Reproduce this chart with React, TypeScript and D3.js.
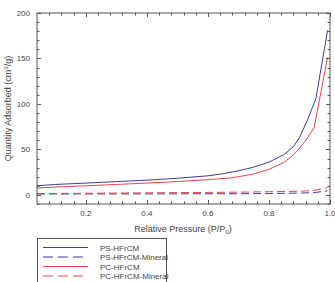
import React from "react";
import * as d3 from "d3";

// Relative pressure (P/P0) sample points for each isotherm
const psPressure = [0.04, 0.1, 0.2, 0.3, 0.4, 0.5, 0.6, 0.65, 0.7, 0.75, 0.8, 0.85, 0.88, 0.9, 0.927, 0.954, 0.992];
const psAdsorbed = [10, 11.5, 13, 14.6, 16.2, 18.3, 21, 23.3, 26.5, 30.5, 36, 44.5, 53, 63, 83, 106, 181];

const pcPressure = [0.04, 0.1, 0.2, 0.3, 0.4, 0.5, 0.6, 0.67, 0.7, 0.75, 0.8, 0.85, 0.88, 0.9, 0.925, 0.948, 0.992];
const pcAdsorbed = [7.5, 8.6, 10, 11.5, 13, 14.7, 16.8, 18.5, 20, 23, 28, 36, 44, 51, 62, 74, 151];

const psMinPressure = [0.04, 0.3, 0.5, 0.7, 0.8, 0.9, 0.95, 0.992];
const psMinAdsorbed = [1.0, 1.1, 1.2, 1.3, 1.5, 2.0, 2.6, 4.5];

const pcMinPressure = [0.04, 0.3, 0.5, 0.7, 0.8, 0.9, 0.95, 0.992];
const pcMinAdsorbed = [1.5, 2.0, 2.5, 3.0, 3.5, 4.0, 5.0, 8.0];

const seriesNames = ["PS-HFrCM", "PS-HFrCM-Mineral", "PC-HFrCM", "PC-HFrCM-Mineral"];

const xTickValues = [0.2, 0.4, 0.6, 0.8, 1.0];
const yTickValues = [0, 50, 100, 150, 200];

const BLUE = "#3d3d9c";
const RED = "#ec4449";
const FRAME = "#555";
const TEXT = "#444";
const FONT = "'Liberation Sans', Arial, sans-serif";

export default function App() {
  const left = 37, right = 330, top = 13, bottom = 204;
  const x = d3.scaleLinear().domain([0.04, 1.0]).range([left, right]);
  const y = d3.scaleLinear().domain([-10, 200]).range([bottom, top]);

  const line = d3
    .line<[number, number]>()
    .x((d) => x(d[0]))
    .y((d) => y(d[1]));

  const zip = (a: number[], b: number[]) => a.map((v, i) => [v, b[i]] as [number, number]);

  const series = [
    { name: seriesNames[0], data: zip(psPressure, psAdsorbed), color: BLUE, dash: null },
    { name: seriesNames[1], data: zip(psMinPressure, psMinAdsorbed), color: BLUE, dash: "8,4" },
    { name: seriesNames[2], data: zip(pcPressure, pcAdsorbed), color: RED, dash: null },
    { name: seriesNames[3], data: zip(pcMinPressure, pcMinAdsorbed), color: RED, dash: "8,4" },
  ];

  const xMinor = d3.range(0.08, 1.0001, 0.04).map((v) => +v.toFixed(2));
  const yMinor = d3.range(-10, 200.001, 10);
  const isMajorX = (v: number) => xTickValues.some((t) => Math.abs(t - v) < 1e-6);
  const isMajorY = (v: number) => yTickValues.includes(v);

  const legendRowY = [247.5, 257, 266.5, 276];

  return (
    <div style={{ position: "absolute", left: 0, top: 0 }}>
      <svg width={335} height={282} style={{ display: "block", background: "#fff" }}>
        {/* curves */}
        {series.map((s) => (
          <path
            key={s.name}
            d={line(s.data) || ""}
            fill="none"
            stroke={s.color}
            strokeWidth={1}
            strokeDasharray={s.dash || undefined}
          />
        ))}

        {/* frame */}
        <rect x={left} y={top} width={right - left} height={bottom - top} fill="none" stroke={FRAME} strokeWidth={1} />

        {/* x ticks, inward on bottom and top */}
        {xMinor.map((v) => {
          const len = isMajorX(v) ? 4 : 2.5;
          const px = Math.round(x(v)) + 0.5;
          return (
            <g key={"x" + v}>
              <line x1={px} x2={px} y1={bottom} y2={bottom - len} stroke={FRAME} strokeWidth={1} />
              <line x1={px} x2={px} y1={top} y2={top + len} stroke={FRAME} strokeWidth={1} />
            </g>
          );
        })}
        {/* y ticks, inward on left and right */}
        {yMinor.map((v) => {
          const len = isMajorY(v) ? 4 : 2.5;
          const py = Math.round(y(v)) + 0.5;
          return (
            <g key={"y" + v}>
              <line x1={left} x2={left + len} y1={py} y2={py} stroke={FRAME} strokeWidth={1} />
              <line x1={right} x2={right - len} y1={py} y2={py} stroke={FRAME} strokeWidth={1} />
            </g>
          );
        })}

        {/* tick labels */}
        {xTickValues.map((v) => (
          <text key={"xl" + v} x={x(v)} y={216} fontSize={8} fill={TEXT} fontFamily={FONT} textAnchor="middle">
            {d3.format(".1f")(v)}
          </text>
        ))}
        {yTickValues.map((v) => (
          <text key={"yl" + v} x={30} y={y(v) + 3} fontSize={8} fill={TEXT} fontFamily={FONT} textAnchor="end">
            {v}
          </text>
        ))}

        {/* axis titles */}
        <text x={183} y={232} fontSize={9} fill={TEXT} fontFamily={FONT} textAnchor="middle">
          Relative Pressure (P/P<tspan fontSize={6} dy={2}>0</tspan>
          <tspan dy={-2}>)</tspan>
        </text>
        <text
          transform={`translate(11,${(top + bottom) / 2}) rotate(-90)`}
          fontSize={9}
          fill={TEXT}
          fontFamily={FONT}
          textAnchor="middle"
        >
          Quantity Adsorbed (cm<tspan fontSize={6} dy={-3}>3</tspan>
          <tspan dy={3}>/g)</tspan>
        </text>

        {/* legend */}
        <rect x={37.5} y={238.5} width={129} height={50} fill="#fff" stroke={FRAME} strokeWidth={1} />
        {series.map((s, i) => (
          <g key={"lg" + s.name}>
            <line
              x1={43}
              x2={88}
              y1={legendRowY[i]}
              y2={legendRowY[i]}
              stroke={s.color}
              strokeWidth={1}
              strokeDasharray={s.dash ? "10,5" : undefined}
            />
            <text x={100} y={legendRowY[i] + 3} fontSize={8} fill={TEXT} fontFamily={FONT}>
              {s.name}
            </text>
          </g>
        ))}
      </svg>
    </div>
  );
}
